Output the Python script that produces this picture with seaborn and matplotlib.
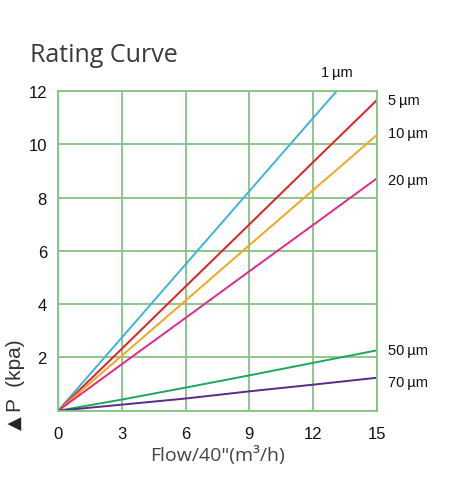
import numpy as np
import pandas as pd
import matplotlib
matplotlib.use("Agg")
import matplotlib.pyplot as plt
import seaborn as sns

sns.set_style("white")
plt.rcParams["font.family"] = ["Liberation Sans", "DejaVu Sans"]

# values
labels = ["1\u2009\u00b5m", "5\u2009\u00b5m", "10\u2009\u00b5m", "20\u2009\u00b5m",
          "50\u2009\u00b5m", "70\u2009\u00b5m"]
flow_1 = [0, 3, 6, 9, 12, 13.1]
dp_1 = [0, 2.75, 5.5, 8.25, 11.0, 12.0]
flow_std = [0, 3, 6, 9, 12, 15]
dp_5 = [0, 2.33, 4.67, 7.0, 9.34, 11.67]
dp_10 = [0, 2.07, 4.14, 6.22, 8.29, 10.36]
dp_20 = [0, 1.75, 3.49, 5.24, 6.98, 8.73]
dp_50 = [0, 0.42, 0.87, 1.33, 1.80, 2.27]
dp_70 = [0, 0.23, 0.46, 0.73, 0.98, 1.24]
colors = ["#3fb3d9", "#e21f26", "#f1a81d", "#e2298b", "#1ca65e", "#5b2a86"]

frames = []
for lab, xs, ys in zip(labels,
                       [flow_1, flow_std, flow_std, flow_std, flow_std, flow_std],
                       [dp_1, dp_5, dp_10, dp_20, dp_50, dp_70]):
    frames.append(pd.DataFrame({"flow": xs, "dp": ys, "size": lab}))
df = pd.concat(frames, ignore_index=True)

fig = plt.figure(figsize=(4.57, 4.85), dpi=100)
ax = fig.add_axes([0.127, 0.151, 0.698, 0.659])

sns.lineplot(data=df, x="flow", y="dp", hue="size", palette=colors,
             linewidth=1.4, legend=False, ax=ax, sort=False)

grid_col = "#86c383"
ax.set_xlim(0, 15)
ax.set_ylim(0, 12)
ax.set_xticks(range(0, 16, 3))
ax.set_yticks(range(0, 13, 2))
ax.set_yticklabels(["", "2", "4", "6", "8", "10", "12"])
ax.grid(True, color=grid_col, linewidth=1.3)
for s in ax.spines.values():
    s.set_color(grid_col)
    s.set_linewidth(1.3)
ax.tick_params(axis="both", length=0, labelsize=12, colors="#111111")
ax.tick_params(axis="x", pad=11)
ax.tick_params(axis="y", pad=8)
ax.set_xlabel("Flow/40\"(m\u00b3/h)", fontsize=14, color="#444444",
              family=["Open Sans", "DejaVu Sans"], labelpad=3)
ax.set_ylabel("")

# curve labels at the line ends
ends = [(flow_1[-1], dp_1[-1]), (15, dp_5[-1]), (15, dp_10[-1]),
        (15, dp_20[-1]), (15, dp_50[-1]), (15, dp_70[-1])]
offsets = [(-11, 14), (8, 0), (8, 1), (8, -1), (8, 0), (8, -3)]
for lab, (xe, ye), off in zip(labels, ends, offsets):
    ax.annotate(lab, (xe, ye), xytext=off, textcoords="offset points",
                fontsize=10.5, color="#111111", va="center", ha="left",
                annotation_clip=False)

fig.text(0.066, 0.873, "Rating Curve", fontsize=18, color="#3a3a3a",
         family=["Open Sans", "DejaVu Sans"], va="baseline")
# y label: big triangle, then "P  (kpa)"
fig.text(0.033, 1 - 423 / 485, "\u25b2", rotation=90, fontsize=13,
         family=["DejaVu Sans"], color="#222222", va="center", ha="center")
fig.text(0.035, 1 - 412 / 485, "P  (kpa)", rotation=90, fontsize=15,
         color="#333333", va="bottom", ha="center")

fig.savefig("out.png", dpi=100, facecolor="white")
